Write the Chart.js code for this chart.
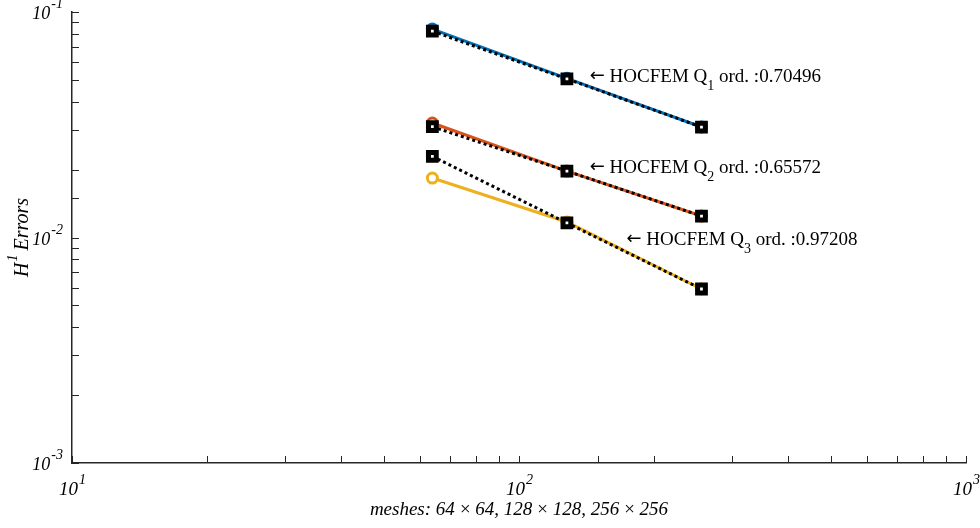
<!DOCTYPE html>
<html>
<head>
<meta charset="utf-8">
<script src="https://cdn.jsdelivr.net/npm/chart.js@4/dist/chart.umd.min.js"></script>
<style>
  html, body { margin: 0; padding: 0; background: #fff; }
  #wrap { width: 980px; height: 528px; }
</style>
</head>
<body>
<div id="wrap"><canvas id="errChart" width="980" height="528"></canvas></div>
<script>
// mesh sizes (N in NxN)
const meshN = [64, 128, 256];

// H1 errors per element order
const errQ1 = [0.0840, 0.0508, 0.0309];
const errQ2 = [0.0322, 0.0197, 0.01245];
const errQ3 = [0.01835, 0.01172, 0.00591];

// reference slopes (dotted)
const fitQ1 = [0.0822, 0.0505, 0.0309];
const fitQ2 = [0.0310, 0.0197, 0.01245];
const fitQ3 = [0.0229, 0.0116, 0.00591];

// order labels and where they sit
const ordNames = ['1', '2', '3'];
const ordValues = ['0.70496', '0.65572', '0.97208'];
const ordLabelX = [144, 144, 174];
const ordLabelY = [0.0526, 0.02075, 0.00995];

const xTicks = [10, 100, 1000];
const xTickExp = ['1', '2', '3'];
const yTicks = [0.001, 0.01, 0.1];
const yTickExp = ['-3', '-2', '-1'];

const colors = ['#0072BD', '#D95319', '#EDB120'];
const axisColor = '#262626';
const serif = '"Liberation Serif", "Times New Roman", serif';

function pts(ys) {
    return meshN.map((n, i) => ({ x: n, y: ys[i] }));
}

function solidSet(ys, c) {
    return {
        data: pts(ys),
        borderColor: c,
        borderWidth: 3,
        pointStyle: 'circle',
        pointRadius: 5,
        pointBorderWidth: 3,
        pointBorderColor: c,
        pointBackgroundColor: '#fff',
        order: 2
    };
}

function fitSet(ys) {
    return {
        data: pts(ys),
        borderColor: '#000',
        borderWidth: 3,
        borderDash: [3, 3],
        pointStyle: 'rect',
        pointRadius: 5.5,
        pointBorderWidth: 5,
        pointBorderColor: '#000',
        pointBackgroundColor: '#fff',
        order: 1
    };
}

// "10" with a raised exponent, italic serif
function powerLabel(ctx, x, y, exp, align, size) {
    ctx.save();
    ctx.fillStyle = '#000';
    ctx.textBaseline = 'alphabetic';
    const big = 'italic ' + size + 'px ' + serif;
    const small = 'italic 14px ' + serif;
    ctx.font = big;
    const wb = ctx.measureText('10').width;
    ctx.font = small;
    const ws = ctx.measureText(exp).width;
    let left = x;
    if (align === 'right') left = x - wb - ws;
    if (align === 'center') left = x - (wb + ws) / 2;
    ctx.font = big;
    ctx.textAlign = 'left';
    ctx.fillText('10', left, y);
    ctx.font = small;
    ctx.fillText(exp, left + wb + 1, y - 11);
    ctx.restore();
}

const axesPlugin = {
    id: 'axesPlugin',
    afterDraw(chart) {
        const ctx = chart.ctx;
        const xs = chart.scales.x;
        const ys = chart.scales.y;
        const a = chart.chartArea;
        ctx.save();
        ctx.strokeStyle = axisColor;
        ctx.lineWidth = 1;
        // inward tick marks, major and minor
        ctx.beginPath();
        xs.ticks.forEach(t => {
            const px = Math.round(xs.getPixelForValue(t.value)) + 0.5;
            ctx.moveTo(px, a.bottom);
            ctx.lineTo(px, a.bottom - 7);
        });
        ys.ticks.forEach(t => {
            const py = Math.round(ys.getPixelForValue(t.value)) + 0.5;
            ctx.moveTo(a.left, py);
            ctx.lineTo(a.left + 7, py);
        });
        ctx.stroke();
        ctx.restore();

        xTicks.forEach((v, i) => {
            powerLabel(ctx, xs.getPixelForValue(v), a.bottom + 32, xTickExp[i], 'center', 19);
        });
        yTicks.forEach((v, i) => {
            powerLabel(ctx, a.left - 10, ys.getPixelForValue(v) + 7, yTickExp[i], 'right', 18);
        });

        // axis titles
        ctx.save();
        ctx.fillStyle = '#000';
        ctx.font = 'italic 19px ' + serif;
        ctx.textAlign = 'center';
        ctx.textBaseline = 'alphabetic';
        ctx.fillText('meshes: 64\u2009\u00d7\u200964, 128\u2009\u00d7\u2009128, 256\u2009\u00d7\u2009256', (a.left + a.right) / 2, a.bottom + 52);
        ctx.translate(28, (a.top + a.bottom) / 2);
        ctx.rotate(-Math.PI / 2);
        ctx.textAlign = 'left';
        ctx.font = 'italic 20px ' + serif;
        const w1 = ctx.measureText('H').width;
        const w2 = ctx.measureText(' Errors').width;
        ctx.font = 'italic 14px ' + serif;
        const w3 = ctx.measureText('1').width;
        const start = -(w1 + w2 + w3) / 2;
        ctx.font = 'italic 20px ' + serif;
        ctx.fillText('H', start, 0);
        ctx.fillText(' Errors', start + w1 + w3, 0);
        ctx.font = 'italic 14px ' + serif;
        ctx.fillText('1', start + w1 + 1, -11);
        ctx.restore();

        // order annotations
        ctx.save();
        ctx.fillStyle = '#000';
        ctx.textBaseline = 'alphabetic';
        ctx.textAlign = 'left';
        ordNames.forEach((q, i) => {
            let px = xs.getPixelForValue(ordLabelX[i]);
            const py = ys.getPixelForValue(ordLabelY[i]) + 7;
            ctx.font = '18px "DejaVu Sans", sans-serif';
            ctx.fillText('\u2190', px, py - 1);
            px += ctx.measureText('\u2190').width;
            ctx.font = '19px ' + serif;
            const head = ' HOCFEM Q';
            ctx.fillText(head, px, py);
            px += ctx.measureText(head).width;
            ctx.font = '14px ' + serif;
            ctx.fillText(q, px, py + 8);
            px += ctx.measureText(q).width;
            ctx.font = '19px ' + serif;
            ctx.fillText(' ord. :' + ordValues[i], px, py);
        });
        ctx.restore();
    }
};

new Chart(document.getElementById('errChart'), {
    type: 'line',
    data: {
        datasets: [
            solidSet(errQ1, colors[0]),
            solidSet(errQ2, colors[1]),
            solidSet(errQ3, colors[2]),
            fitSet(fitQ1),
            fitSet(fitQ2),
            fitSet(fitQ3)
        ]
    },
    options: {
        responsive: false,
        animation: false,
        layout: { padding: { left: 72, right: 14, top: 12, bottom: 65 } },
        plugins: { legend: { display: false }, tooltip: { enabled: false } },
        elements: { line: { tension: 0 } },
        scales: {
            x: {
                type: 'logarithmic',
                min: 10,
                max: 1000,
                ticks: { display: false },
                grid: { display: false, drawTicks: false },
                border: { display: true, color: axisColor, width: 1.5 }
            },
            y: {
                type: 'logarithmic',
                min: 0.001,
                max: 0.1,
                ticks: { display: false },
                grid: { display: false, drawTicks: false },
                border: { display: true, color: axisColor, width: 1.5 }
            }
        }
    },
    plugins: [axesPlugin]
});
</script>
</body>
</html>
